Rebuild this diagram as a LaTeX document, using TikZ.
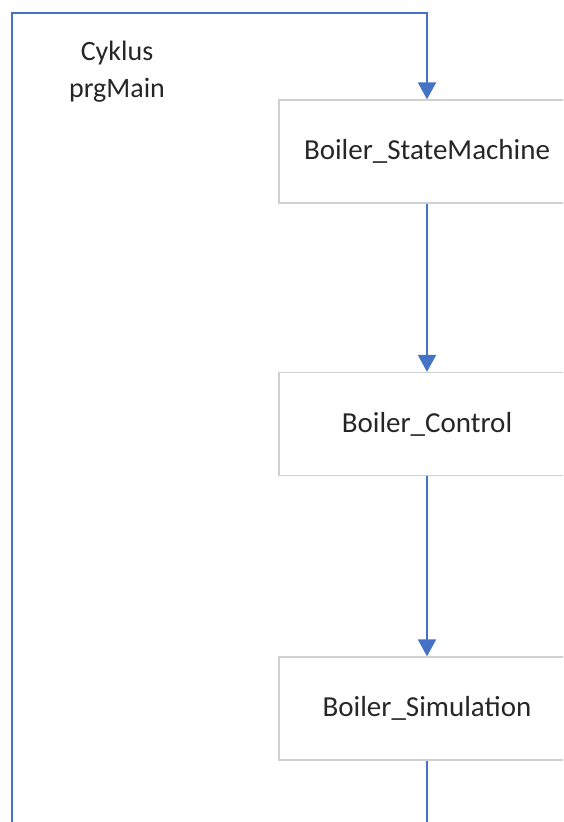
\documentclass[tikz,border=0pt]{standalone}
\usepackage{fontspec}
\setmainfont{Carlito}
\usetikzlibrary{arrows.meta}
\definecolor{flowblue}{HTML}{4472C4}
\definecolor{boxgray}{HTML}{D0D0D0}
\definecolor{textgray}{HTML}{262626}
\tikzset{
  block/.style={draw=boxgray, line width=1.2pt, minimum width=296pt, minimum height=103pt,
    inner sep=0pt, text=textgray, font=\fontsize{29}{34}\selectfont},
  flow/.style={draw=flowblue, line width=1.8pt, -{Triangle[width=18pt,length=17pt]}},
  loopline/.style={draw=flowblue, line width=1.8pt},
}
\begin{document}
\begin{tikzpicture}[x=1pt,y=-1pt]
		%%%%% FRAME %%%%%
		\useasboundingbox (0,0) rectangle (563,822);
		\clip (0,0) rectangle (563,822);
		
		%%%%% BLOCKS %%%%%
		\node[block] (statemachine) at (427,151.5) {Boiler\_StateMachine};
		\node[block] (control) at (427,424) {Boiler\_Control};
		\node[block] (simulation) at (427,708.5) {Boiler\_Simulation};
		
		\node[align=center, text=textgray, font=\fontsize{28}{37}\selectfont] (cycle) at (117,72) {Cyklus\\prgMain};
		
		%%%%% LOOP %%%%%
		\coordinate (bottomleft) at (12,830);
		\coordinate (topleft) at (12,13);
		\coordinate (topright) at (427,13);
		\coordinate (bottomright) at (427,830);
		
		\draw[flow] (bottomleft) -- (topleft) -- (topright) -- (statemachine.north);
		\draw[flow] (statemachine.south) -- (control.north);
		\draw[flow] (control.south) -- (simulation.north);
		\draw[loopline] (simulation.south) -- (bottomright);
	\end{tikzpicture}
\end{document}
